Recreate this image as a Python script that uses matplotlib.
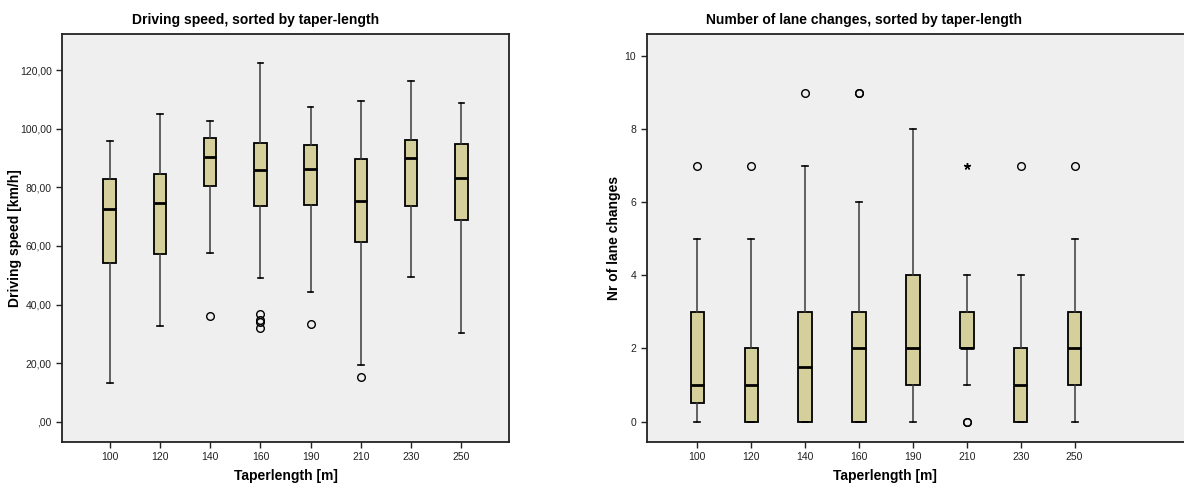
import matplotlib
matplotlib.use("Agg")
import matplotlib.pyplot as plt
from matplotlib.ticker import FuncFormatter

plt.rcParams['font.family'] = ['Liberation Sans', 'DejaVu Sans']

# Taper lengths (categories)
categories = ["100", "120", "140", "160", "190", "210", "230", "250"]

# Driving speed [km/h] box statistics per taper length
speed_whislo = [13.1, 32.6, 57.6, 48.9, 44.4, 19.2, 49.5, 30.3]
speed_q1     = [54.1, 57.2, 80.3, 73.5, 74.0, 61.3, 73.5, 68.9]
speed_med    = [72.7, 74.6, 90.4, 85.9, 86.4, 75.3, 90.0, 83.2]
speed_q3     = [82.8, 84.5, 96.7, 95.0, 94.4, 89.7, 96.0, 94.9]
speed_whishi = [95.8, 105.0, 102.7, 122.4, 107.3, 109.6, 116.4, 108.9]
speed_outliers = [[], [], [36.2], [36.8, 34.6, 34.2, 32.0], [33.4], [15.4], [], []]
speed_extremes = [[], [], [], [], [], [], [], []]

# Number of lane changes box statistics per taper length
lane_whislo = [0, 0, 0, 0, 0, 1, 0, 0]
lane_q1     = [0.5, 0, 0, 0, 1, 2, 0, 1]
lane_med    = [1, 1, 1.5, 2, 2, 2, 1, 2]
lane_q3     = [3, 2, 3, 3, 4, 3, 2, 3]
lane_whishi = [5, 5, 7, 6, 8, 4, 4, 5]
lane_outliers = [[7], [7], [9], [9, 9], [], [0, 0], [7], [7]]
lane_extremes = [[], [], [], [], [], [7], [], []]

BOX_FACE = "#D4CF9B"
PANEL_BG = "#EFEFEF"


def build_stats(lo, q1, med, q3, hi, fl):
    return [dict(whislo=a, q1=b, med=c, q3=d, whishi=e, fliers=f)
            for a, b, c, d, e, f in zip(lo, q1, med, q3, hi, fl)]


def draw_panel(ax, stats, extremes, title, ylabel, title_x, xlabel_x, ylabel_x):
    ax.set_facecolor(PANEL_BG)
    pos = list(range(len(categories)))
    ax.bxp(stats, positions=pos, widths=0.25, patch_artist=True,
           boxprops=dict(facecolor=BOX_FACE, edgecolor="black", linewidth=1.3),
           medianprops=dict(color="black", linewidth=2.0),
           whiskerprops=dict(color="#3a3a3a", linewidth=1.1),
           capprops=dict(color="black", linewidth=1.2),
           capwidths=0.11,
           flierprops=dict(marker="o", markersize=5.5, markerfacecolor="none",
                           markeredgecolor="black", markeredgewidth=1.0,
                           linestyle="none"))
    for p, ext in zip(pos, extremes):
        if ext:
            ax.plot([p] * len(ext), ext, linestyle="none", marker=(5, 2, 0),
                    markersize=5, color="black", markeredgewidth=1.0)
    ax.set_xticks(pos)
    ax.set_xticklabels(categories)
    ax.set_title(title, fontsize=10, fontweight="bold", pad=7, x=title_x)
    ax.set_xlabel("Taperlength [m]", fontsize=10, fontweight="bold")
    ax.xaxis.set_label_coords(xlabel_x, -0.066)
    ax.set_ylabel(ylabel, fontsize=10, fontweight="bold")
    ax.yaxis.set_label_coords(ylabel_x, 0.5)
    ax.tick_params(axis="both", labelsize=7.5, colors="#222222", length=4, width=1)
    for s in ("left", "bottom", "top", "right"):
        ax.spines[s].set_color("#222222")
        ax.spines[s].set_linewidth(1.3)


fig = plt.figure(figsize=(11.84, 4.88), dpi=100)
ax1 = fig.add_axes([0.0524, 0.0943, 0.3775, 0.836])
ax2 = fig.add_axes([0.5462, 0.0943, 0.4538 + 0.01, 0.836])

draw_panel(ax1,
           build_stats(speed_whislo, speed_q1, speed_med, speed_q3, speed_whishi, speed_outliers),
           speed_extremes, "Driving speed, sorted by taper-length", "Driving speed [km/h]",
           title_x=0.433, xlabel_x=0.5, ylabel_x=-0.09)
ax1.set_xlim(-0.95, 7.95)
ax1.set_ylim(-6.9, 132.3)
ax1.set_yticks([0, 20, 40, 60, 80, 100, 120])
ax1.yaxis.set_major_formatter(FuncFormatter(
    lambda v, _: ",00" if v == 0 else f"{int(round(v))},00"))

draw_panel(ax2,
           build_stats(lane_whislo, lane_q1, lane_med, lane_q3, lane_whishi, lane_outliers),
           lane_extremes, "Number of lane changes, sorted by taper-length", "Nr of lane changes",
           title_x=0.396, xlabel_x=0.434, ylabel_x=-0.047)
ax2.set_xlim(-0.94, 9.25)
ax2.set_ylim(-0.56, 10.6)
ax2.set_yticks([0, 2, 4, 6, 8, 10])
ax2.spines["right"].set_visible(False)

fig.savefig("out.png", dpi=100, facecolor="white")
